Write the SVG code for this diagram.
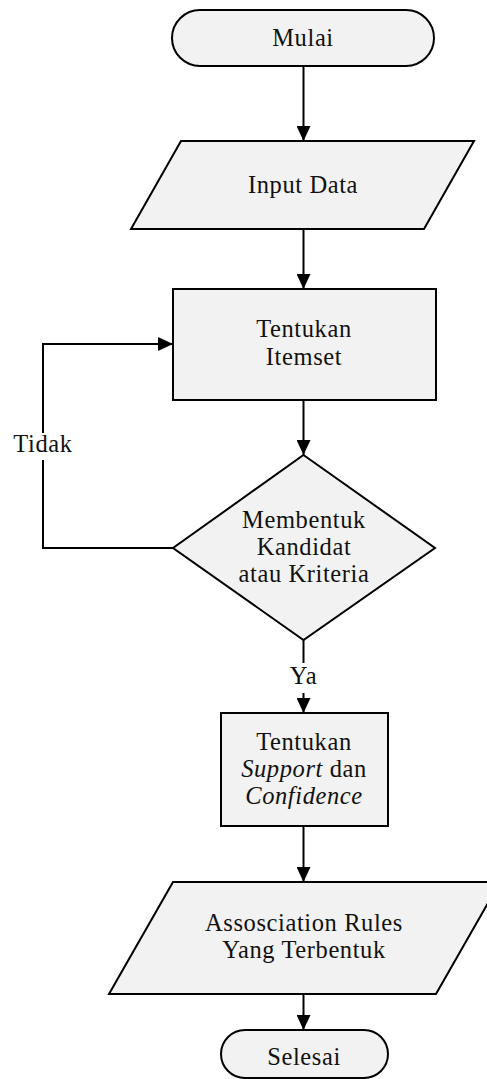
<svg xmlns="http://www.w3.org/2000/svg" width="487" height="1079" viewBox="0 0 487 1079">
  <style>
    .shape { fill: #f2f2f2; stroke: #000; stroke-width: 2; }
    .line { fill: none; stroke: #000; stroke-width: 2; }
    .label { font-family: "Liberation Serif", "Times New Roman", serif; font-size: 24.5px; letter-spacing: 0.6px; fill: #111; text-anchor: middle; }
    .it { font-style: italic; }
  </style>
  <defs>
    <marker id="arrow" markerUnits="userSpaceOnUse" markerWidth="15" markerHeight="14" refX="15" refY="7" orient="auto">
      <path d="M0,0 L15,7 L0,14 Z" fill="#000"/>
    </marker>
  </defs>
  <rect width="487" height="1079" fill="#fff"/>

  <!-- connectors -->
  <g id="connectors">
    <line class="line" x1="303.5" y1="66" x2="303.5" y2="141" marker-end="url(#arrow)"/>
    <line class="line" x1="303.5" y1="229" x2="303.5" y2="289" marker-end="url(#arrow)"/>
    <line class="line" x1="303.5" y1="400" x2="303.5" y2="455" marker-end="url(#arrow)"/>
    <line class="line" x1="303.5" y1="640" x2="303.5" y2="663"/>
    <line class="line" x1="303.5" y1="693" x2="303.5" y2="713" marker-end="url(#arrow)"/>
    <line class="line" x1="303.5" y1="826" x2="303.5" y2="882" marker-end="url(#arrow)"/>
    <line class="line" x1="303.5" y1="994" x2="303.5" y2="1030" marker-end="url(#arrow)"/>
    <!-- loop back from the decision -->
    <polyline class="line" points="173,548 43,548 43,460"/>
    <polyline class="line" points="43,433 43,344 173,344" marker-end="url(#arrow)"/>
    <text class="label" x="43" y="452">Tidak</text>
    <text class="label" x="303.5" y="684">Ya</text>
  </g>

  <g id="mulai">
    <rect class="shape" x="172" y="10" width="262" height="56" rx="28" ry="28"/>
    <text class="label" x="303" y="46">Mulai</text>
  </g>

  <g id="input-data">
    <polygon class="shape" points="181,141 474,141 424,229 131,229"/>
    <text class="label" x="303" y="193">Input Data</text>
  </g>

  <g id="tentukan-itemset">
    <rect class="shape" x="173" y="289" width="263" height="111"/>
    <text class="label" x="304" y="337">Tentukan</text>
    <text class="label" x="304" y="365">Itemset</text>
  </g>

  <g id="kandidat">
    <polygon class="shape" points="303.5,455 435,548 303.5,640 173,548"/>
    <text class="label" x="304" y="528">Membentuk</text>
    <text class="label" x="304" y="555">Kandidat</text>
    <text class="label" x="304" y="582">atau Kriteria</text>
  </g>

  <g id="support-confidence">
    <rect class="shape" x="221" y="713" width="167" height="113"/>
    <text class="label" x="304" y="750">Tentukan</text>
    <text class="label" x="304" y="777"><tspan class="it">Support</tspan> dan</text>
    <text class="label it" x="304" y="804">Confidence</text>
  </g>

  <g id="association-rules">
    <polygon class="shape" points="173,882 500,882 436,994 109,994"/>
    <text class="label" x="304" y="931">Assosciation Rules</text>
    <text class="label" x="304" y="958">Yang Terbentuk</text>
  </g>

  <g id="selesai">
    <rect class="shape" x="221" y="1030" width="167" height="48" rx="24" ry="24"/>
    <text class="label" x="304" y="1065">Selesai</text>
  </g>
</svg>
